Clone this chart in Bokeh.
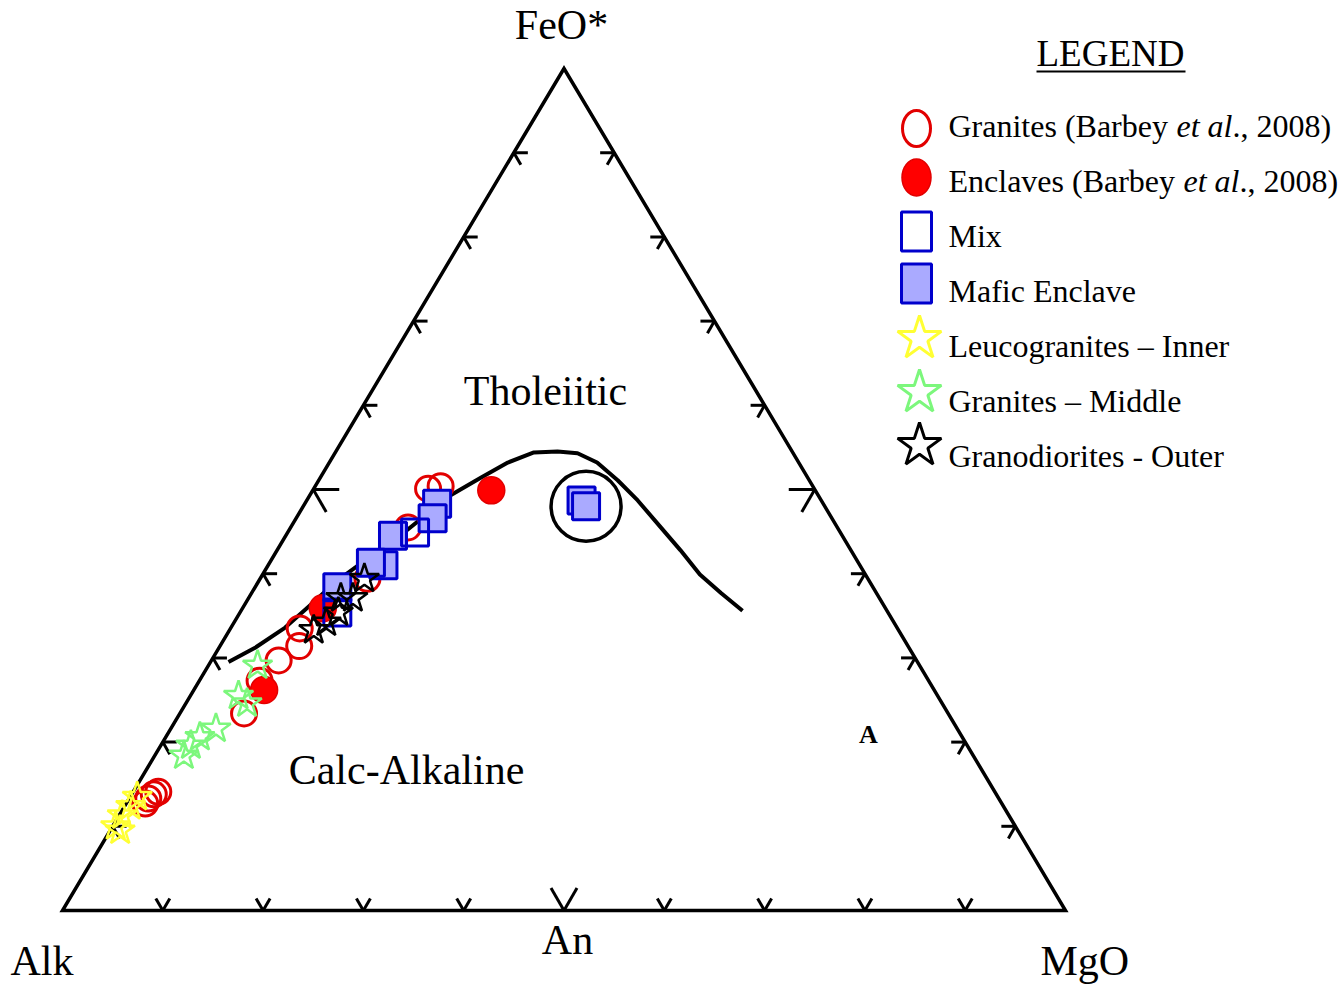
import numpy as np
from bokeh.plotting import figure
from bokeh.models import Range1d
from bokeh.core.properties import value
from bokeh.embed import file_html
from bokeh.resources import INLINE

# ---------------- data (ternary %, FeO* and MgO; Alk = 100 - FeO* - MgO) ----------------
granite_barbey_feo = [50.1, 50.4, 45.5, 39.4, 33.5, 31.4, 29.7, 27.3, 23.4, 12.7, 13.3, 13.8, 14.1]
granite_barbey_mgo = [11.4, 12.5, 11.7, 10.7, 6.9, 7.9, 6.7, 6.0, 6.4, 1.9, 1.9, 2.2, 2.5]
enclave_barbey_feo = [49.9, 26.2, 35.9]
enclave_barbey_mgo = [17.8, 7.0, 8.0]
mix_feo = [44.9, 35.4]
mix_mgo = [12.7, 9.7]
mafic_feo = [48.3, 46.6, 44.5, 41.0, 41.3, 38.4, 48.7, 48.0]
mafic_mgo = [13.2, 13.6, 10.7, 11.5, 10.1, 8.2, 27.4, 28.2]
leuco_feo = [10.0, 11.3, 12.4, 13.5, 9.5]
leuco_mgo = [0.3, 0.3, 0.6, 0.7, 1.0]
granite_mid_feo = [29.1, 25.5, 24.6, 21.6, 20.6, 19.6, 18.4]
granite_mid_mgo = [4.9, 4.8, 6.1, 4.5, 3.4, 3.0, 2.9]
granodiorite_feo = [39.4, 37.1, 35.4, 34.2, 33.3, 37.1]
granodiorite_mgo = [10.4, 10.4, 9.8, 9.2, 8.4, 9.2]

# Irvine & Baragar tholeiitic / calc-alkaline boundary
boundary_feo = [29.5, 31.2, 33.6, 36.3, 39.0, 41.6, 44.5, 49.3, 51.4, 53.2, 54.4,
                54.5, 54.3, 53.2, 51.1, 48.7, 45.5, 42.8, 39.9, 37.7, 35.6]
boundary_mgo = [1.8, 3.6, 5.4, 6.6, 7.7, 9.4, 11.4, 14.0, 16.0, 17.8, 19.8,
                22.1, 24.2, 26.7, 29.8, 33.0, 36.9, 40.2, 43.6, 46.8, 50.0]
highlight_feo = [48.0]
highlight_mgo = [28.2]

tick_values = [10, 20, 30, 40, 50, 60, 70, 80, 90]

legend_labels = ["Granites (Barbey ", "Enclaves (Barbey ", "Mix", "Mafic Enclave",
                 "Leucogranites \u2013 Inner", "Granites \u2013 Middle", "Granodiorites - Outer"]

# ---------------- geometry ----------------
W, H = 1338, 987
X0, Y0 = 62.0, 910.0      # Alk corner in pixels
SX, SY = 10.03, 8.42      # pixels per ternary unit


def tern(feo, mgo):
    feo = np.asarray(feo, float)
    mgo = np.asarray(mgo, float)
    return mgo + feo / 2.0, feo


def px(xp, yp):
    return (xp - X0) / SX, (Y0 - yp) / SY


p = figure(width=W, height=H, output_backend="svg", toolbar_location=None,
           x_range=Range1d(-X0 / SX, (W - X0) / SX),
           y_range=Range1d((Y0 - H) / SY, Y0 / SY),
           x_axis_type=None, y_axis_type=None, min_border=0)
p.grid.visible = False
p.outline_line_color = None
p.background_fill_color = "white"
p.border_fill_color = "white"

SERIF = value("Liberation Serif")

# boundary curve
bx, by = tern(boundary_feo, boundary_mgo)
p.line(bx, by, line_color="black", line_width=4, line_join="round")

# highlight circle
hx, hy = tern(highlight_feo, highlight_mgo)
p.scatter(hx, hy, marker="circle", size=70, fill_color=None, line_color="black", line_width=3.5)

# triangle
p.patch([0, 100, 50], [0, 0, 100], fill_color=None, line_color="black",
        line_width=3.5, line_join="miter")

# ticks
x0s, y0s, x1s, y1s = [], [], [], []
c60, s60 = 0.5, 0.866
for k in tick_values:
    L = 26 if k == 50 else 14
    # bottom edge
    x0s += [k, k]; y0s += [0, 0]
    x1s += [k - L * c60 / SX, k + L * c60 / SX]; y1s += [L * s60 / SY, L * s60 / SY]
    # left edge
    lx, ly = k / 2.0, k
    x0s += [lx, lx]; y0s += [ly, ly]
    x1s += [lx + L / SX, lx + L * c60 / SX]; y1s += [ly, ly - L * s60 / SY]
    # right edge
    rx, ry = 100 - k / 2.0, k
    x0s += [rx, rx]; y0s += [ry, ry]
    x1s += [rx - L / SX, rx - L * c60 / SX]; y1s += [ry, ry - L * s60 / SY]
p.segment(x0s, y0s, x1s, y1s, line_color="black", line_width=3)

RED = "#FF0000"
RED_LINE = "#E20000"
BLUE = "#0000CC"
LBLUE = "#AAAAFF"
YELLOW = "#FFFF33"
GREEN = "#7CF77C"

# data markers
x, y = tern(granite_barbey_feo, granite_barbey_mgo)
p.scatter(x, y, marker="circle", size=25, fill_color=None, line_color=RED_LINE, line_width=3)
x, y = tern(enclave_barbey_feo, enclave_barbey_mgo)
p.scatter(x, y, marker="circle", size=27, fill_color=RED, line_color=RED_LINE, line_width=1.5)
x, y = tern(mafic_feo, mafic_mgo)
p.scatter(x, y, marker="square", size=27, fill_color=LBLUE, line_color=BLUE, line_width=3)
x, y = tern(mix_feo, mix_mgo)
p.scatter(x, y, marker="square", size=27, fill_color=None, line_color=BLUE, line_width=3)
x, y = tern(leuco_feo, leuco_mgo)
p.scatter(x, y, marker="star", size=31, fill_color=None, line_color=YELLOW, line_width=2.5)
x, y = tern(granite_mid_feo, granite_mid_mgo)
p.scatter(x, y, marker="star", size=31, fill_color=None, line_color=GREEN, line_width=2.5)
x, y = tern(granodiorite_feo, granodiorite_mgo)
p.scatter(x, y, marker="star", size=31, fill_color=None, line_color="black", line_width=2.5)


# labels (yp = visual baseline in pixels)
def label(xp, yp, txt, size=42, align="center", style="normal", color="black"):
    lx, ly = px(xp, yp - 0.37 * size)
    p.text([lx], [ly], text=[txt], text_font=SERIF, text_font_size=f"{size}px",
           text_align=align, text_baseline="alphabetic", text_font_style=style,
           text_color=color)


label(561, 40, "FeO*")
label(10, 976, "Alk", align="left")
label(1040, 976, "MgO", align="left")
label(567, 955, "An")
label(545, 406, "Tholeiitic")
label(406, 785, "Calc-Alkaline")
label(868, 744, "A", size=26, style="bold")

# legend
label(1110, 67, "LEGEND", size=37)
ux0, uy = px(1036, 71)
ux1, _ = px(1185, 71)
p.segment([ux0], [uy], [ux1], [uy], line_color="black", line_width=2)

text_base = [137, 192, 247, 302, 357, 412, 467]
marker_y = [128, 177, 231, 283, 338, 392, 445]
mx = px(916, 0)[0]

my = [px(0, v)[1] for v in marker_y]
p.ellipse([mx], [my[0]], width=28, height=36, width_units="screen", height_units="screen",
          fill_color=None, line_color=RED_LINE, line_width=3)
p.ellipse([mx], [my[1]], width=29, height=37, width_units="screen", height_units="screen",
          fill_color=RED, line_color=RED_LINE, line_width=1.5)
p.rect([mx], [my[2]], width=30, height=39, width_units="screen", height_units="screen",
       fill_color="white", line_color=BLUE, line_width=3)
p.rect([mx], [my[3]], width=30, height=39, width_units="screen", height_units="screen",
       fill_color=LBLUE, line_color=BLUE, line_width=3)
sx = px(919, 0)[0]
p.scatter([sx], [my[4]], marker="star", size=46, fill_color=None, line_color=YELLOW, line_width=3)
p.scatter([sx], [my[5]], marker="star", size=46, fill_color=None, line_color=GREEN, line_width=3)
p.scatter([sx], [my[6]], marker="star", size=46, fill_color=None, line_color="black", line_width=3)

for i, lab in enumerate(legend_labels):
    label(948, text_base[i], lab, size=32, align="left")
# italic "et al." parts
label(1176, text_base[0], "et al", size=32, align="left", style="italic")
label(1232, text_base[0], "., 2008)", size=32, align="left")
label(1183, text_base[1], "et al", size=32, align="left", style="italic")
label(1239, text_base[1], "., 2008)", size=32, align="left")

open("out.html", "w").write(file_html(p, INLINE))
